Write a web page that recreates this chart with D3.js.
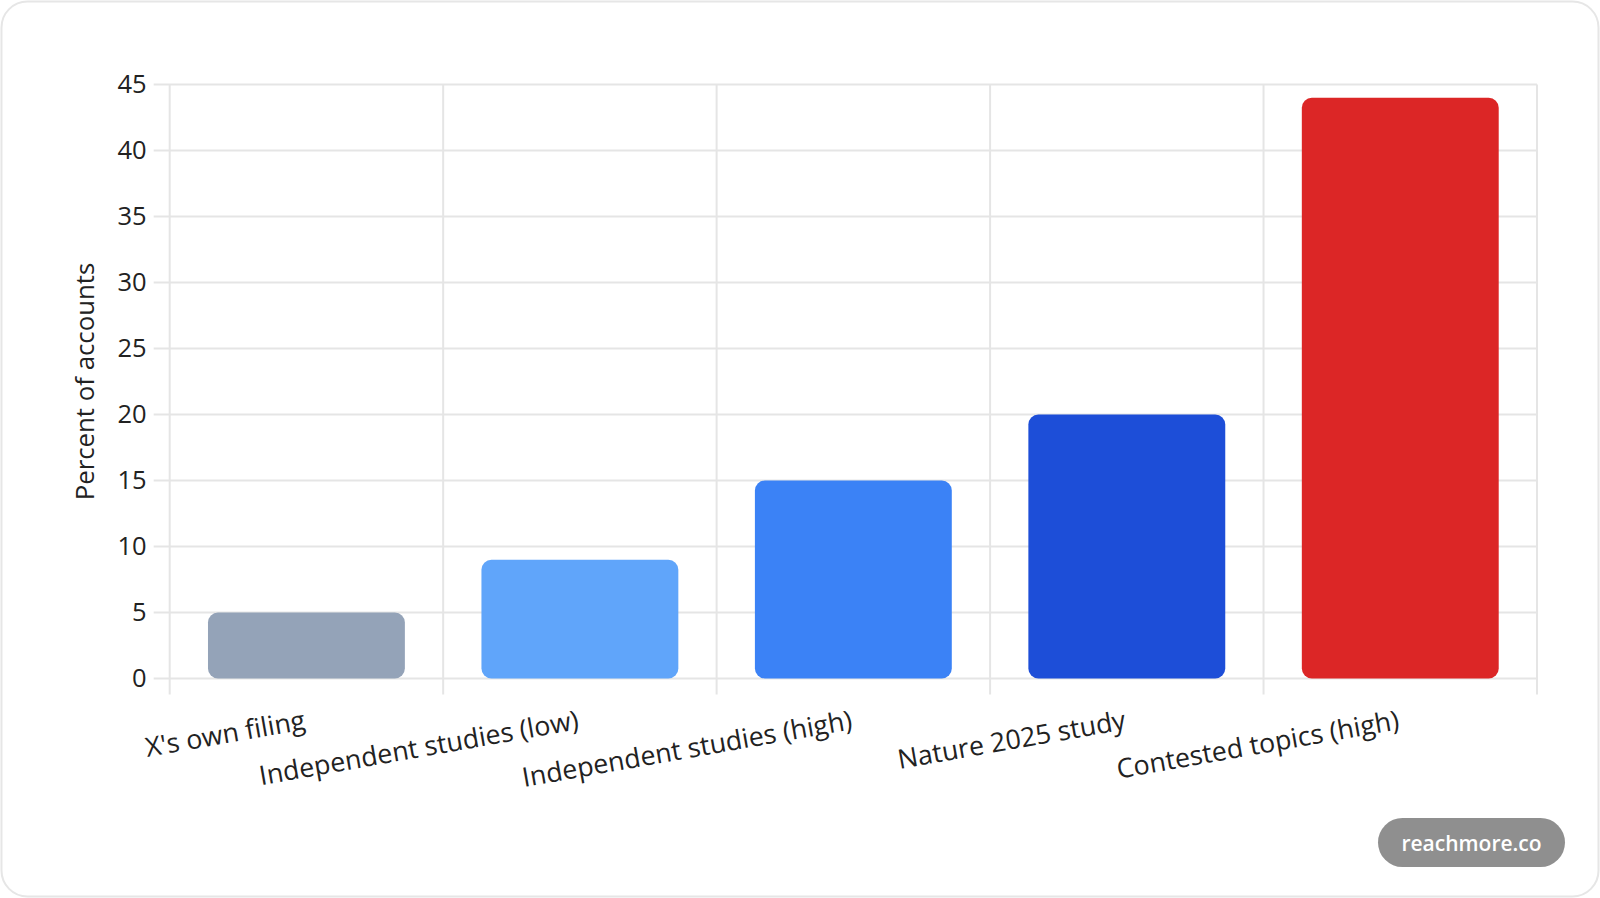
<!DOCTYPE html>
<html>
<head>
<meta charset="utf-8">
<script src="https://cdn.jsdelivr.net/npm/d3@7"></script>
<style>
  html, body { margin: 0; padding: 0; background: #fff; }
  svg { display: block; }
</style>
</head>
<body>
<svg id="chart" width="1600" height="898"></svg>
<script>
const categories = ["X's own filing", "Independent studies (low)", "Independent studies (high)", "Nature 2025 study", "Contested topics (high)"];
const values = [5, 9, 15, 20, 44];
const barColors = ["#94a3b8", "#60a5fa", "#3b82f6", "#1d4ed8", "#dc2626"];
const yTicks = [0, 5, 10, 15, 20, 25, 30, 35, 40, 45];
const yTitle = "Percent of accounts";
const watermark = "reachmore.co";

const W = 1600, H = 898;
const margin = { left: 169.7, right: 63, top: 84.5, bottom: 219.5 };
const svg = d3.select("#chart");
const font = "'Open Sans', 'Noto Sans', sans-serif";

// card
svg.append("rect").attr("x", 1.5).attr("y", 1.5).attr("width", W - 3).attr("height", H - 3)
  .attr("rx", 26).attr("fill", "#fff").attr("stroke", "#e6e6e6").attr("stroke-width", 2);

const x = d3.scaleBand().domain(categories).range([margin.left, W - margin.right]).padding(0);
const y = d3.scaleLinear().domain([0, 45]).range([H - margin.bottom, margin.top]);

const g = svg.append("g");
const gridColor = "#e5e5e5";

// horizontal grid + ticks
g.selectAll("line.hg").data(yTicks).join("line")
  .attr("x1", margin.left - 16).attr("x2", W - margin.right)
  .attr("y1", d => y(d)).attr("y2", d => y(d))
  .attr("stroke", gridColor).attr("stroke-width", 2);

// vertical grid at category boundaries
const edges = categories.map(c => x(c)).concat([x(categories[categories.length - 1]) + x.bandwidth()]);
g.selectAll("line.vg").data(edges).join("line")
  .attr("x1", d => d).attr("x2", d => d)
  .attr("y1", margin.top).attr("y2", y(0) + 16)
  .attr("stroke", gridColor).attr("stroke-width", 2);

// bars
const bw = x.bandwidth() * 0.72;
g.selectAll("rect.bar").data(values).join("rect")
  .attr("x", (d, i) => x(categories[i]) + (x.bandwidth() - bw) / 2)
  .attr("y", d => y(d))
  .attr("width", bw)
  .attr("height", d => y(0) - y(d))
  .attr("rx", 10)
  .attr("fill", (d, i) => barColors[i]);

// y tick labels
g.selectAll("text.yt").data(yTicks).join("text")
  .attr("x", margin.left - 23).attr("y", d => y(d) - 2)
  .attr("text-anchor", "end").attr("dominant-baseline", "central")
  .attr("font-family", font).attr("font-size", 25.5).attr("fill", "#222")
  .text(d => d);

// x labels rotated
g.selectAll("text.xt").data(categories).join("text")
  .attr("transform", c => `translate(${x(c) + x.bandwidth() / 2},729) rotate(-10)`)
  .attr("text-anchor", "end")
  .attr("font-family", font).attr("font-size", 26.8).attr("fill", "#222")
  .text(c => c);

// y title
svg.append("text")
  .attr("transform", `translate(94,${(y(0) + y(45)) / 2}) rotate(-90)`)
  .attr("text-anchor", "middle")
  .attr("font-family", font).attr("font-size", 25.8).attr("fill", "#222")
  .text(yTitle);

// watermark pill
const wm = svg.append("g");
wm.append("rect").attr("x", 1378).attr("y", 818).attr("width", 187).attr("height", 49)
  .attr("rx", 24.5).attr("fill", "#8f8f8f");
wm.append("text").attr("x", 1378 + 187 / 2).attr("y", 818 + 24.5)
  .attr("text-anchor", "middle").attr("dominant-baseline", "central")
  .attr("font-family", font).attr("font-size", 21).attr("font-weight", 600).attr("fill", "#fff")
  .text(watermark);
</script>
</body>
</html>
